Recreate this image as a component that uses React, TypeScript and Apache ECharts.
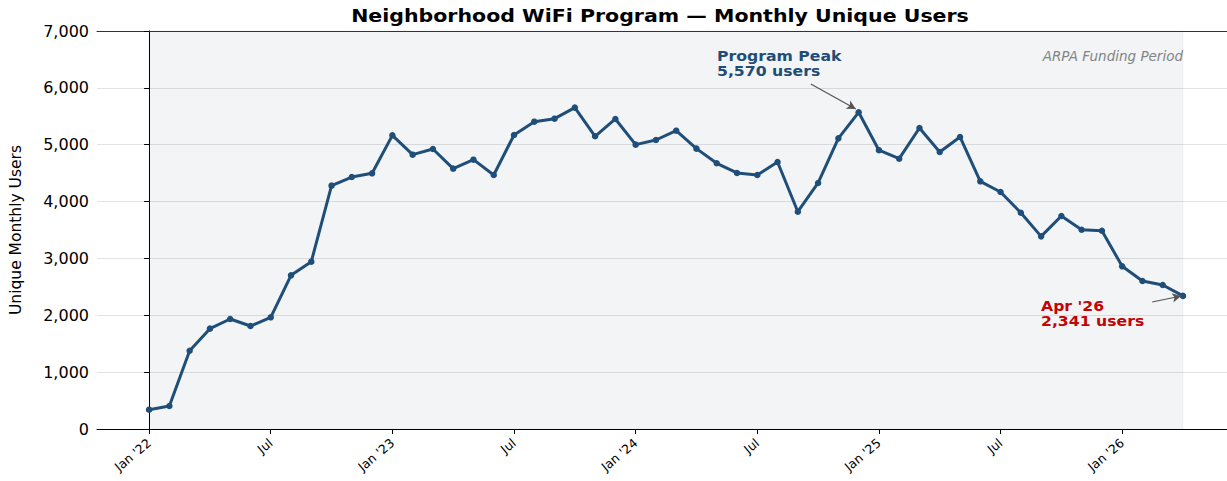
import React, { useEffect, useRef } from "react";
import * as echarts from "echarts";

const months: string[] = [
  "2022-01", "2022-02", "2022-03", "2022-04", "2022-05", "2022-06",
  "2022-07", "2022-08", "2022-09", "2022-10", "2022-11", "2022-12",
  "2023-01", "2023-02", "2023-03", "2023-04", "2023-05", "2023-06",
  "2023-07", "2023-08", "2023-09", "2023-10", "2023-11", "2023-12",
  "2024-01", "2024-02", "2024-03", "2024-04", "2024-05", "2024-06",
  "2024-07", "2024-08", "2024-09", "2024-10", "2024-11", "2024-12",
  "2025-01", "2025-02", "2025-03", "2025-04", "2025-05", "2025-06",
  "2025-07", "2025-08", "2025-09", "2025-10", "2025-11", "2025-12",
  "2026-01", "2026-02", "2026-03", "2026-04",
];

const users: number[] = [
  340, 405, 1377, 1765, 1935, 1811, 1964, 2703, 2943, 4280, 4432, 4497,
  5165, 4825, 4925, 4579, 4737, 4467, 5171, 5405, 5458, 5652, 5148, 5453,
  5001, 5083, 5247, 4931, 4673, 4503, 4467, 4696, 3822, 4327, 5112, 5570,
  4904, 4754, 5294, 4872, 5136, 4356, 4168, 3804, 3388, 3746, 3505, 3487,
  2861, 2603, 2533, 2341,
];

const xTickIndex: number[] = [0, 6, 12, 18, 24, 30, 36, 42, 48];
const xTickLabels: string[] = [
  "Jan '22", "Jul", "Jan '23", "Jul", "Jan '24", "Jul", "Jan '25", "Jul", "Jan '26",
];

const peakMonth = "2024-12";
const latestMonth = "2026-04";

const FONT = "DejaVu Sans";
const NAVY = "#1f4e79";

export default function App() {
  const ref = useRef<HTMLDivElement>(null);
  useEffect(() => {
    if (!ref.current) return;
    const chart = echarts.init(ref.current, null, { renderer: "svg" });
    const peakIdx = months.indexOf(peakMonth);
    const lastIdx = months.indexOf(latestMonth);
    const xMin = -2.57;
    const xMax = 53.17;
    chart.setOption({
      animation: false,
      textStyle: { fontFamily: FONT },
      grid: { left: 97, right: 0, top: 31, bottom: 52 },
      xAxis: [
        {
          type: "value",
          min: xMin,
          max: xMax,
          axisLine: { show: true, lineStyle: { color: "#000", width: 1 } },
          axisTick: {
            show: true,
            customValues: xTickIndex,
            length: 5,
            lineStyle: { color: "#000" },
          },
          axisLabel: {
            customValues: xTickIndex,
            rotate: 40,
            fontSize: 12.5,
            color: "#000",
            fontFamily: FONT,
            margin: 12,
            formatter: (v: number) => {
              const i = xTickIndex.indexOf(Math.round(v));
              return i >= 0 ? xTickLabels[i] : "";
            },
          },
          splitLine: { show: false },
        },
        {
          type: "value",
          position: "top",
          min: xMin,
          max: xMax,
          axisLine: { show: true, lineStyle: { color: "#333", width: 1 } },
          axisTick: { show: false },
          axisLabel: { show: false },
          splitLine: { show: false },
        },
      ],
      yAxis: {
        type: "value",
        min: 0,
        max: 7000,
        interval: 1000,
        name: "Unique Monthly Users",
        nameLocation: "middle",
        nameGap: 73,
        nameTextStyle: { fontFamily: FONT, fontSize: 15.5, color: "#000" },
        axisLine: { show: true, lineStyle: { color: "#000", width: 1 } },
        axisTick: { show: true, length: 5, lineStyle: { color: "#000" } },
        axisLabel: {
          fontSize: 16,
          color: "#000",
          fontFamily: FONT,
          margin: 8,
          formatter: (v: number) => v.toLocaleString("en-US"),
        },
        splitLine: { show: true, lineStyle: { color: "#e3e3e3", width: 1 } },
      },
      series: [
        {
          type: "line",
          data: users.map((v, i) => [i, v]),
          symbol: "circle",
          symbolSize: 6.5,
          lineStyle: { color: NAVY, width: 3 },
          itemStyle: { color: NAVY },
          z: 3,
          markArea: {
            silent: true,
            itemStyle: {
              color: "rgba(40,60,110,0.06)",
              borderColor: "rgba(40,60,110,0.05)",
              borderWidth: 1,
            },
            data: [[{ xAxis: 0, yAxis: 0 }, { xAxis: lastIdx, yAxis: 7000 }]],
          },
          markLine: {
            silent: true,
            symbol: ["none", "arrow"],
            symbolSize: [7, 9],
            label: { show: false },
            lineStyle: { color: "#555", width: 1.2, type: "solid" },
            data: [
              [
                { coord: [32.64, 6068] },
                { coord: [peakIdx - 0.14, users[peakIdx] + 58] },
              ],
              [
                { coord: [49.48, 2234] },
                { coord: [lastIdx - 0.09, users[lastIdx] - 2] },
              ],
            ],
          },
        },
      ],
      graphic: [
        {
          type: "text",
          x: 660,
          y: 16,
          scaleX: 1.14,
          style: {
            text: "Neighborhood WiFi Program — Monthly Unique Users",
            font: `bold 18px "${FONT}"`,
            fill: "#000",
            textAlign: "center",
            textVerticalAlign: "middle",
          },
        },
        {
          type: "text",
          x: 717,
          y: 49,
          scaleX: 1.12,
          style: {
            text: "Program Peak\n" + users[peakIdx].toLocaleString("en-US") + " users",
            font: `bold 14px "${FONT}"`,
            fill: NAVY,
            lineHeight: 15,
            textVerticalAlign: "top",
          },
        },
        {
          type: "text",
          x: 1041,
          y: 299,
          scaleX: 1.12,
          style: {
            text: "Apr '26\n" + users[lastIdx].toLocaleString("en-US") + " users",
            font: `bold 14px "${FONT}"`,
            fill: "#cc0000",
            lineHeight: 15,
            textVerticalAlign: "top",
          },
        },
        {
          type: "text",
          x: 1183,
          y: 56,
          style: {
            text: "ARPA Funding Period",
            font: `italic 13.5px "${FONT}"`,
            fill: "#888",
            textAlign: "right",
            textVerticalAlign: "middle",
          },
        },
      ],
    });
    return () => chart.dispose();
  }, []);
  return (
    <div
      ref={ref}
      style={{ position: "absolute", left: 0, top: 0, width: 1227, height: 481 }}
    />
  );
}
